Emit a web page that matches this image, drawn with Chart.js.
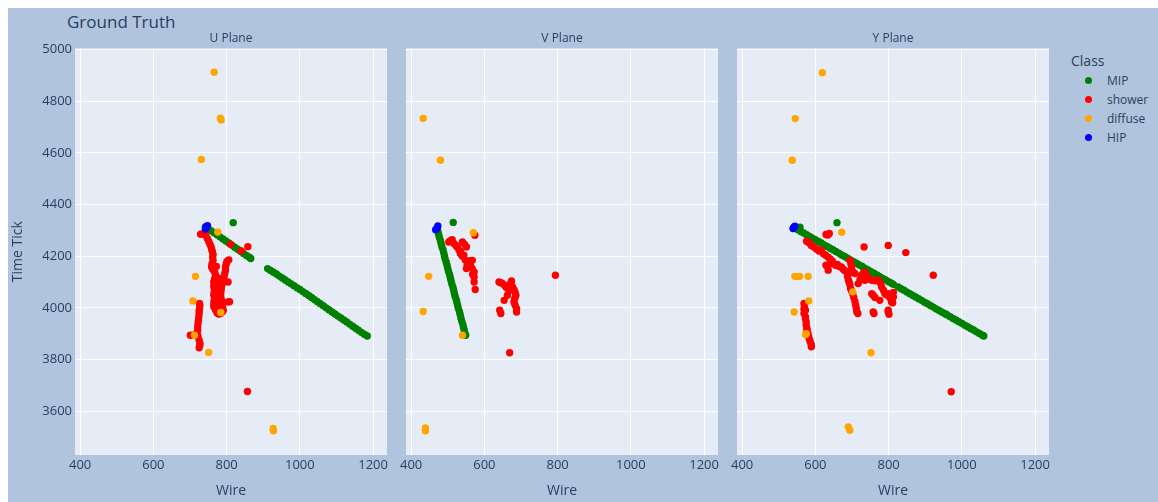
<!DOCTYPE html>
<html lang="en">
<head>
  <meta charset="UTF-8" />
  <title>Ground Truth</title>
  <script src="https://cdn.jsdelivr.net/npm/chart.js"></script>
  <style>
    body { margin: 0; background: #fff; font-family: "Open Sans", sans-serif; color: #2a3f5f; }
    #bg { position: absolute; left: 8px; top: 8px; width: 1150px; height: 494px; background: #b0c4de; }
    canvas { position: absolute; top: 8px; }
    #title { position: absolute; left: 67px; top: 11px; font-size: 17px; line-height: 22px; }
    #legend { position: absolute; left: 1071px; top: 51px; }
    #legend .head { font-size: 14px; line-height: 20px; margin-bottom: 0px; }
    #legend .item { position: relative; height: 19px; font-size: 12px; line-height: 19px; padding-left: 36px; }
    #legend .dot { position: absolute; left: 14px; top: 6px; width: 7px; height: 7px; border-radius: 50%; }
  </style>
</head>
<body>
  <div id="bg"></div>
  <div id="title">Ground Truth</div>
  <canvas id="uChart" width="388" height="494" style="left:8px"></canvas>
  <canvas id="vChart" width="332" height="494" style="left:396px"></canvas>
  <canvas id="yChart" width="332" height="494" style="left:727px"></canvas>
  <div id="legend"></div>

  <script>
    const classes = ["MIP", "shower", "diffuse", "HIP"];
    const classColors = ["#008000", "#ff0000", "#ffa500", "#0000ff"];
    const xTicks = [400, 600, 800, 1000, 1200];
    const yTicks = [3600, 3800, 4000, 4200, 4400, 4600, 4800, 5000];
    const wireRange = [386, 1238];
    const tickRange = [3430, 5005];

    // U plane  [wire, time tick]
    const uMip = [
      [742,4313],[750,4306],[758,4298],[766,4291],[774,4283],[782,4275],[790,4267],[798,4259],[806,4251],
      [814,4243],[822,4235],[830,4227],[838,4219],[846,4211],[854,4203],[862,4196],[866,4191],[818,4330],
      [912,4152],[920,4145],[928,4138],[936,4131],[944,4123],[952,4116],[960,4108],[968,4100],[976,4093],
      [984,4086],[992,4078],[1000,4071],[1008,4063],[1016,4056],[1024,4048],[1032,4040],[1040,4032],
      [1048,4024],[1056,4016],[1064,4008],[1072,4000],[1080,3992],[1088,3984],[1096,3976],[1104,3968],
      [1112,3961],[1120,3953],[1128,3945],[1136,3937],[1144,3929],[1152,3921],[1160,3913],[1168,3905],
      [1176,3898],[1184,3891]
    ];
    const uShower = [
      [729,4285],[736,4287],[742,4283],[747,4270],[751,4258],[754,4248],[757,4238],[759,4228],[761,4218],
      [763,4207],[762,4196],[763,4184],[760,4170],[759,4158],[762,4150],[765,4146],[768,4136],[770,4125],
      [767,4112],[765,4100],[766,4088],[765,4081],[768,4070],[766,4060],[765,4049],[768,4040],[766,4028],
      [765,4016],[765,4004],[770,3992],[774,3980],[779,3976],[783,3978],[788,3985],[791,3990],[789,4003],
      [788,4017],[786,4030],[784,4042],[784,4055],[785,4068],[786,4081],[789,4095],[790,4108],[793,4120],
      [795,4133],[797,4145],[797,4158],[799,4170],[801,4180],[806,4186],[804,4100],[808,4024],[804,4023],
      [778,4042],[774,4060],[774,4081],[776,4100],[778,4115],[772,4160],[777,4092],[781,4070],[780,4050],
      [782,4020],[780,4005],[775,4010],[811,4246],[840,4220],[858,4237],
      [726,4017],[727,4008],[726,3997],[725,3988],[725,3978],[724,3965],[723,3952],[722,3940],[721,3926],
      [721,3913],[720,3900],[722,3888],[725,3875],[727,3862],[727,3855],[725,3845],[701,3894],[709,3894],
      [715,3897],[857,3676]
    ];
    const uDiffuse = [
      [766,4913],[783,4735],[785,4728],[731,4575],[776,4294],[715,4122],[708,4027],[712,3894],[784,3982],
      [751,3827],[927,3533],[928,3524]
    ];
    const uHip = [[742,4305],[744,4310],[745,4315],[748,4318]];

    // V plane
    const vMip = [
      [471,4309],[473,4297],[475,4285],[477,4273],[480,4261],[482,4249],[484,4237],[487,4225],[489,4213],
      [491,4201],[493,4189],[496,4177],[498,4165],[500,4153],[502,4141],[505,4129],[507,4117],[509,4105],
      [511,4093],[514,4081],[516,4069],[518,4057],[520,4045],[523,4033],[525,4021],[527,4009],[529,3997],
      [532,3985],[534,3973],[536,3961],[538,3949],[541,3937],[543,3925],[545,3913],[547,3901],[549,3894],
      [515,4331]
    ];
    const vShower = [
      [574,4281],[503,4255],[507,4260],[512,4264],[517,4249],[522,4242],[526,4236],[531,4223],[535,4218],
      [540,4255],[546,4246],[551,4236],[535,4210],[540,4200],[544,4204],[548,4185],[553,4165],[558,4178],
      [563,4184],[567,4184],[558,4158],[562,4165],[567,4152],[551,4152],[555,4160],[572,4139],[572,4120],
      [572,4100],[575,4071],[568,4130],
      [640,4100],[645,4097],[650,4094],[655,4088],[659,4081],[664,4075],[668,4068],[674,4104],[672,4095],
      [677,4081],[681,4070],[684,4060],[686,4049],[683,4036],[681,4023],[684,4010],[688,3997],[688,3984],
      [654,4029],[663,4049],[642,3991],[645,3978],[794,4126],[669,3826]
    ];
    const vDiffuse = [
      [433,4734],[480,4572],[570,4291],[448,4122],[433,3986],[540,3894],[439,3535],[439,3524]
    ];
    const vHip = [[467,4303],[471,4309],[473,4317]];

    // Y plane
    const yMip = [
      [544,4309],[552,4303],[560,4296],[568,4290],[576,4283],[584,4277],[592,4270],[600,4264],[608,4257],
      [616,4251],[624,4244],[632,4238],[640,4231],[648,4225],[656,4218],[664,4212],[672,4205],[680,4199],
      [688,4192],[696,4186],[704,4179],[712,4173],[720,4166],[728,4160],[736,4153],[744,4147],[752,4140],
      [760,4134],[768,4127],[776,4121],[784,4114],[792,4108],[800,4101],[808,4095],[813,4091],
      [826,4081],[834,4074],[842,4068],[850,4061],[858,4055],[866,4048],[874,4042],[882,4035],[890,4029],
      [898,4022],[906,4016],[914,4009],[922,4003],[930,3996],[938,3990],[946,3983],[954,3977],[959,3973],
      [968,3966],[976,3959],[984,3953],[992,3946],[1000,3940],[1008,3933],[1016,3927],[1024,3920],
      [1032,3914],[1040,3907],[1048,3901],[1056,3894],[1060,3891],[659,4330],[558,4312]
    ];
    const yShower = [
      [629,4284],[638,4288],[634,4282],[733,4236],[799,4242],[847,4214],[922,4126],[971,3675],
      [576,4258],[582,4252],[589,4242],[596,4236],[603,4228],[610,4220],[616,4223],[622,4210],[628,4204],
      [635,4196],[641,4188],[646,4182],[629,4165],[635,4146],[640,4170],[648,4172],[655,4165],[660,4168],
      [665,4160],[671,4158],[676,4150],[680,4145],[685,4140],[690,4133],[694,4184],[697,4170],[699,4160],
      [700,4145],[704,4137],[708,4133],[688,4120],[690,4108],[692,4100],[694,4090],[696,4075],[699,4065],
      [702,4055],[705,4040],[708,4025],[710,4010],[712,3997],[713,3985],[716,3978],[717,4094],[722,4110],
      [726,4126],[731,4135],[735,4139],[740,4125],[745,4115],[750,4110],[755,4107],[763,4105],[772,4107],
      [778,4095],[781,4081],[786,4068],[790,4055],[795,4050],[799,4055],[803,4040],[808,4029],[811,4020],
      [813,4042],[813,4060],[735,4107],[754,4055],[758,4049],[763,4040],[758,3984],[760,3978],[776,4029],
      [799,3991],[799,3984],[801,3975],[808,4023],
      [569,4017],[570,4005],[569,3995],[573,3991],[569,3978],[573,3965],[573,3958],[575,3945],[575,3933],
      [577,3920],[577,3913],[580,3900],[582,3887],[584,3877],[586,3868],[589,3857],[589,3849]
    ];
    const yDiffuse = [
      [619,4911],[545,4733],[537,4572],[672,4293],[544,4122],[550,4121],[557,4122],[580,4122],[582,4027],
      [542,3984],[573,3897],[575,3900],[702,4062],[752,3826],[690,3539],[694,3526]
    ];
    const yHip = [[539,4307],[541,4311],[544,4316]];

    const font = "'Open Sans', sans-serif";
    const textColor = "#2a3f5f";

    const plotBg = {
      id: "plotBg",
      beforeDraw(chart) {
        const a = chart.chartArea;
        chart.ctx.save();
        chart.ctx.fillStyle = "#e5ecf6";
        chart.ctx.fillRect(a.left, a.top, a.right - a.left, a.bottom - a.top);
        chart.ctx.restore();
      }
    };

    function toPoints(arr) {
      return arr.map(p => ({ x: p[0], y: p[1] }));
    }

    function makeChart(id, title, sets, showY, pad) {
      new Chart(document.getElementById(id), {
        type: "scatter",
        data: {
          datasets: sets.map((s, i) => ({
            label: classes[i],
            data: toPoints(s),
            backgroundColor: classColors[i],
            borderWidth: 0,
            pointRadius: 3.7,
            order: 4 - i
          }))
        },
        options: {
          responsive: false,
          animation: false,
          events: [],
          layout: { padding: { top: 20, left: pad[0], right: pad[1], bottom: 0 } },
          plugins: {
            legend: { display: false },
            tooltip: { enabled: false },
            title: {
              display: true, text: title, color: textColor, fullSize: false,
              font: { family: font, size: 12, weight: "normal" },
              padding: { top: 3, bottom: 3 }
            }
          },
          scales: {
            x: {
              type: "linear", min: wireRange[0], max: wireRange[1],
              afterBuildTicks: s => { s.ticks = xTicks.map(v => ({ value: v })); },
              afterFit: s => { s.height = 47; },
              ticks: { color: textColor, font: { family: font, size: 13 }, padding: 2, callback: v => String(v) },
              grid: { color: "#ffffff", lineWidth: 1, drawTicks: false },
              border: { display: false },
              title: { display: true, text: "Wire", color: textColor, font: { family: font, size: 14 }, padding: { top: 0, bottom: 3 } }
            },
            y: {
              type: "linear", min: tickRange[0], max: tickRange[1],
              afterBuildTicks: s => { s.ticks = yTicks.map(v => ({ value: v })); },
              afterFit: s => { s.width = showY ? 67 : 0; },
              ticks: { display: showY, color: textColor, font: { family: font, size: 13 }, padding: 3, callback: v => String(v) },
              grid: { color: "#ffffff", lineWidth: 1, drawTicks: false },
              border: { display: false },
              title: { display: showY, text: "Time Tick", color: textColor, font: { family: font, size: 14 }, padding: { top: 2, bottom: 0 } }
            }
          }
        },
        plugins: [plotBg]
      });
    }

    makeChart("uChart", "U Plane", [uMip, uShower, uDiffuse, uHip], true, [0, 9]);
    makeChart("vChart", "V Plane", [vMip, vShower, vDiffuse, vHip], false, [10, 10]);
    makeChart("yChart", "Y Plane", [yMip, yShower, yDiffuse, yHip], false, [10, 10]);

    // legend
    const legend = document.getElementById("legend");
    let html = '<div class="head">Class</div>';
    classes.forEach((c, i) => {
      html += '<div class="item"><span class="dot" style="background:' + classColors[i] + '"></span>' + c + '</div>';
    });
    legend.innerHTML = html;
  </script>
</body>
</html>
